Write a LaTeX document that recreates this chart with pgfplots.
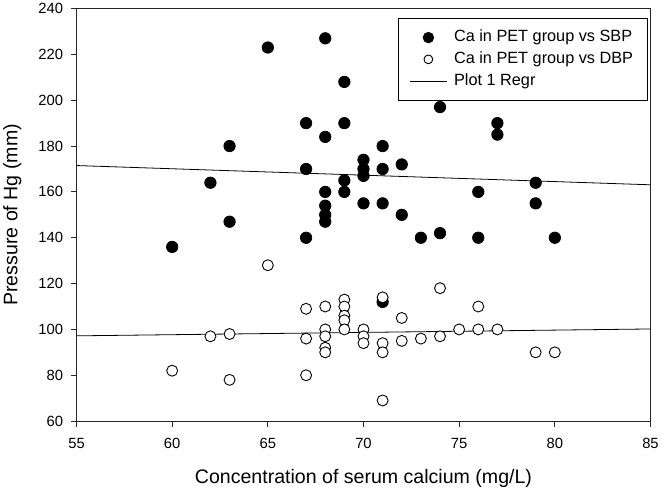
\documentclass[border=0pt]{standalone}
\usepackage{fontspec}
\setmainfont{Liberation Sans}
\usepackage{pgfplots}
\pgfplotsset{compat=1.18}

\pgfplotstableread{
x y
60 136
62 164
63 180
63 147
65 223
67 190
67 170
67 140
68 227
68 184
68 160
68 154
68 150
68 147
69 208
69 190
69 165
69 160
70 174
70 170
70 167
70 155
71 180
71 170
71 155
71 112
72 172
72 150
73 140
74 197
74 142
76 160
76 140
77 190
77 185
79 164
79 155
80 140
}\sbp

\pgfplotstableread{
x y
60 82
62 97
63 98
63 78
65 128
67 109
67 96
67 80
68 110
68 100
68 97
68 92
68 90
69 113
69 110
69 106
69 104
69 100
70 100
70 97
70 94
71 114
71 94
71 90
71 69
72 105
72 95
73 96
74 118
74 97
75 100
76 110
76 100
77 100
79 90
80 90
}\dbp

\newcommand{\lgf}{\fontsize{16.3bp}{19bp}\selectfont}

\begin{document}
\begin{tikzpicture}
\begin{axis}[
  scale only axis,
  width=575bp, height=413.3bp,
  xmin=55, xmax=85, ymin=60, ymax=240,
  xtick={55,60,...,85}, ytick={60,80,...,240},
  axis line style={line width=0.9bp, black!85},
  tick style={line width=0.9bp, black!85},
  tick align=outside,
  major tick length=5.5bp,
  xtick pos=bottom, ytick pos=left,
  tick label style={font=\fontsize{14.8bp}{17bp}\selectfont},
  xticklabel shift=8bp,
  yticklabel shift=4.5bp,
  /pgf/number format/assume math mode=true,
  label style={font=\fontsize{19.6bp}{23bp}\selectfont},
  xlabel={Concentration of serum calcium (mg/L)},
  ylabel={Pressure of Hg (mm)},
  xlabel shift=14bp,
  ylabel shift=10bp,
  legend image code/.code={\draw[mark repeat=2,mark phase=2,#1] plot coordinates {(0bp,0bp) (18.3bp,0bp) (36.6bp,0bp)};},
  legend cell align=left,
  legend style={at={(rel axis cs:1,1)}, anchor=north east, xshift=-3bp, yshift=-9.3bp,
    draw=black, line width=0.8bp, inner xsep=11bp, inner ysep=8.5bp,
    font=\lgf, row sep=0bp, column sep=4bp,
    nodes={inner xsep=3bp, inner ysep=3.3bp, text height=11.7bp, text depth=3.5bp}},
]
\addplot[black, line width=0.8bp, forget plot] coordinates {(55,171.5) (85,163.1)};
\addplot[black, line width=0.8bp, forget plot] coordinates {(55,97.2) (85,100.2)};
\addplot[only marks, mark=*, mark size=5.7bp, draw=black, fill=black, mark options={line width=0.8bp}, forget plot] table {\sbp};
\addplot[only marks, mark=*, mark size=5.5bp, draw=black, fill=white, mark options={line width=0.9bp, fill=white}, forget plot] table {\dbp};
\addlegendimage{only marks, mark=*, mark size=5.3bp, draw=black, fill=black, mark options={line width=0.8bp}}
\addlegendentry{\lgf Ca in PET group vs SBP}
\addlegendimage{only marks, mark=*, mark size=4.4bp, draw=black, fill=white, mark options={line width=0.9bp, fill=white}}
\addlegendentry{\lgf Ca in PET group vs DBP\hspace{6.7bp}}
\addlegendimage{black, line width=0.8bp}
\addlegendentry{\lgf Plot 1 Regr}
\end{axis}
\end{tikzpicture}
\end{document}
